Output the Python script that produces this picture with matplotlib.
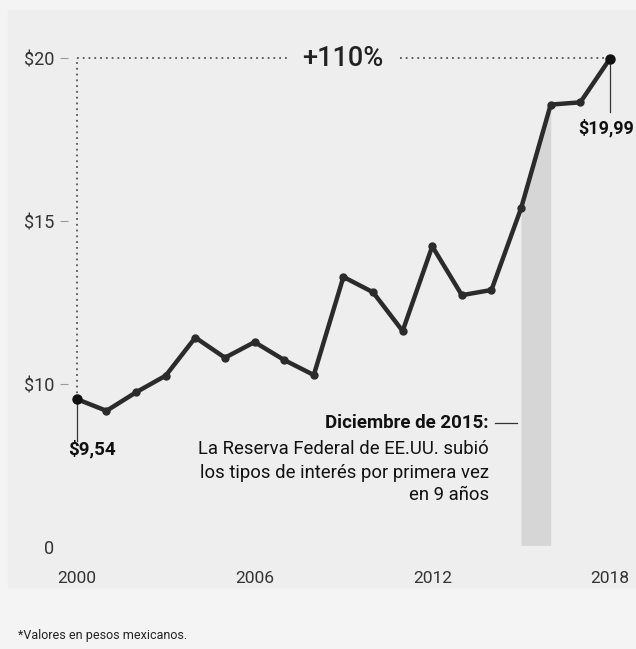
import matplotlib.pyplot as plt
from matplotlib.patches import Rectangle

# precio anual (pesos mexicanos)
years = [2000, 2001, 2002, 2003, 2004, 2005, 2006, 2007, 2008, 2009,
         2010, 2011, 2012, 2013, 2014, 2015, 2016, 2017, 2018]
prices = [9.54, 9.18, 9.75, 10.26, 11.43, 10.81, 11.29, 10.74, 10.28, 13.29,
          12.82, 11.63, 14.23, 12.73, 12.89, 15.40, 18.58, 18.65, 19.99]

ytick_vals = [5, 10, 15, 20]
ytick_labels = ["0", "$10", "$15", "$20"]
xtick_vals = [2000, 2006, 2012, 2018]

fed_start, fed_end = 2015, 2016

plt.rcParams["font.family"] = ["Roboto", "DejaVu Sans"]

W, H = 636, 649
fig = plt.figure(figsize=(W / 100, H / 100), dpi=100, facecolor="#f4f4f4")

# fondo gris del área del gráfico
fig.patches.append(Rectangle((8 / W, (H - 587) / H), 1, (587 - 10) / H,
                             transform=fig.transFigure, color="#eeeeee",
                             zorder=-5))

ax = fig.add_axes([68 / W, (H - 547) / H, (W - 68) / W, (547 - 30) / H])
ax.set_zorder(2)
ax.set_facecolor("none")
ax.set_xlim(1999.70, 2018.88)
ax.set_ylim(5.0, 20.87)
for s in ax.spines.values():
    s.set_visible(False)

ax.set_yticks(ytick_vals)
ax.set_yticklabels(ytick_labels)
ax.tick_params(axis="y", length=6, width=0.8, color="#999999", pad=4,
               labelsize=13, labelcolor="#333333")
ax.yaxis.get_major_ticks()[0].tick1line.set_visible(False)
ax.set_xticks(xtick_vals)
ax.set_xticklabels([str(y) for y in xtick_vals])
ax.tick_params(axis="x", length=0, pad=17, labelsize=12.5, labelcolor="#333333")

# franja de la subida de tasas de la Fed
i0, i1 = years.index(fed_start), years.index(fed_end)
ax.fill_between(years[i0:i1 + 1], 5.05, prices[i0:i1 + 1], color="#d6d6d6",
                lw=0, zorder=1)

# línea de precios
ax.plot(years, prices, color="#2b2b2b", lw=3.2, marker="o", ms=5,
        solid_joinstyle="round", zorder=3)
ax.plot([years[0], years[-1]], [prices[0], prices[-1]], "o", color="#111111",
        ms=6.5, zorder=4)

# guías punteadas de la variación total
dot = dict(color="#555555", lw=1.3, ls=(0, (1, 2.2)), zorder=2)
ax.plot([years[0], years[0]], [prices[0], 20], **dot)
ax.plot([years[0], 2007.09], [20, 20], **dot)
ax.plot([2010.91, years[-1]], [20, 20], **dot)
pct = (prices[-1] / prices[0] - 1) * 100
ax.text(2008.98, 20, f"+{pct:.0f}%", ha="center", va="center", fontsize=19.5,
        color="#222222", weight="medium")

# etiquetas de inicio y fin
ax.plot([years[0], years[0]], [prices[0], 8.26], color="#333333", lw=0.9, zorder=2)
ax.text(1999.70, 8.0, f"${prices[0]:.2f}".replace(".", ","), ha="left",
        va="center", fontsize=13.5, weight="bold", color="#111111")
ax.plot([years[-1], years[-1]], [prices[-1], 18.35], color="#333333", lw=0.9,
        zorder=2)
ax.text(2018.82, 17.86, f"${prices[-1]:.2f}".replace(".", ","), ha="right",
        va="center", fontsize=13, weight="bold", color="#111111")

# nota de diciembre de 2015
ax.plot([2014.12, 2014.86], [8.81, 8.81], color="#333333", lw=0.9)
ax.text(2013.91, 8.81, "Diciembre de 2015:", ha="right", va="center",
        fontsize=13.5, weight="bold", color="#111111")
note = ["La Reserva Federal de EE.UU. subió",
        "los tipos de interés por primera vez",
        "en 9 años"]
for line, yv in zip(note, [8.02, 7.28, 6.60]):
    ax.text(2013.91, yv, line, ha="right", va="center", fontsize=13.3,
            color="#111111")

fig.text(18 / W, 1 - 636 / H, "*Valores en pesos mexicanos.", ha="left",
         va="center", fontsize=9, color="#222222")

fig.savefig("out.png", dpi=100, facecolor=fig.get_facecolor())
